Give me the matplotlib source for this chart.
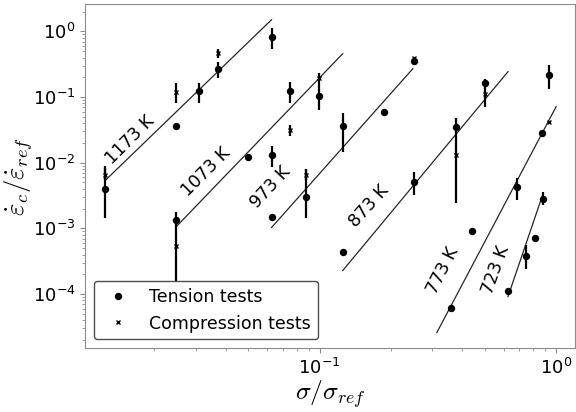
import numpy as np
import matplotlib
matplotlib.use("Agg")
import matplotlib.pyplot as plt

# ── data ─────────────────────────────────────────────────
# tension tests: sigma/sigma_ref, rate, error-bar low, error-bar high (nan = no bar)
t_sig = [0.0124, 0.0248, 0.0310, 0.0373, 0.0626,
         0.0248, 0.0496, 0.0626, 0.0746, 0.0990,
         0.0626, 0.0872, 0.1252, 0.1867, 0.2502,
         0.1252, 0.2502, 0.3770, 0.5001,
         0.3589, 0.4406, 0.6834, 0.8721, 0.9340,
         0.6259, 0.7462, 0.8148, 0.8809]
t_rate = [0.00403, 0.0367, 0.125, 0.271, 0.830,
          0.00136, 0.0124, 0.0133, 0.125, 0.105,
          0.00151, 0.00305, 0.0367, 0.0599, 0.358,
          0.000444, 0.00516, 0.0354, 0.166,
          6.2e-5, 0.000926, 0.00433, 0.0287, 0.219,
          0.000113, 0.000385, 0.000724, 0.00284]
t_lo = [0.00146, np.nan, 0.0822, 0.197, 0.545,
        0.00012, np.nan, 0.00872, 0.0822, 0.0643,
        np.nan, 0.00146, 0.0148, np.nan, np.nan,
        np.nan, 0.00327, 0.00247, 0.139,
        np.nan, np.nan, 0.00274, np.nan, 0.134,
        np.nan, 0.000244, np.nan, 0.0023]
t_hi = [0.00903, np.nan, 0.166, 0.346, 1.14,
        0.0018, np.nan, 0.0182, 0.172, 0.172,
        np.nan, 0.00813, 0.0579, np.nan, np.nan,
        np.nan, 0.00732, 0.0486, 0.191,
        np.nan, np.nan, 0.00593, np.nan, 0.311,
        np.nan, 0.000567, np.nan, 0.00363]

# compression tests
c_sig = [0.0124, 0.0248, 0.0248, 0.0373, 0.0746, 0.0990,
         0.0872, 0.2502, 0.3770, 0.5001, 0.9340]
c_rate = [0.00659, 0.000547, 0.121, 0.474, 0.0319, 0.197,
          0.00659, 0.398, 0.0133, 0.113, 0.0422]
c_lo = [0.00553, np.nan, 0.0822, 0.398, 0.0259, 0.172,
        0.00553, np.nan, np.nan, 0.0714, np.nan]
c_hi = [0.00842, np.nan, 0.166, 0.545, 0.038, 0.235,
        0.00813, np.nan, np.nan, 0.139, np.nan]

# power-law fit lines per temperature (end points)
temps = ["1173 K", "1073 K", "973 K", "873 K", "773 K", "723 K"]
fit_sig0 = [0.0125, 0.0248, 0.0626, 0.1252, 0.313, 0.6259]
fit_sig1 = [0.0626, 0.1252, 0.2478, 0.6259, 1.0, 0.8809]
fit_rate0 = [0.00553, 0.00107, 0.00103, 0.000228, 2.59e-5, 9.16e-5]
fit_rate1 = [1.507, 0.4576, 0.2706, 0.2435, 0.0714, 0.00339]

# temperature label anchors
lab_sig = [0.0158, 0.0332, 0.0621, 0.1614, 0.332, 0.557]
lab_rate = [0.0225, 0.00732, 0.00418, 0.00222, 0.000228, 0.000235]
lab_rot = [45, 45, 47, 48, 63, 70]


def draw_bars(ax, x, y, lo, hi):
    x, y, lo, hi = map(np.asarray, (x, y, lo, hi))
    m = ~np.isnan(lo)
    ax.errorbar(x[m], y[m], yerr=[y[m] - lo[m], hi[m] - y[m]], fmt="none",
                ecolor="k", elinewidth=1.6, capsize=0, zorder=2)


fig = plt.figure(figsize=(5.76, 4.12), dpi=100)
ax = fig.add_axes([0.148, 0.155, 0.850, 0.835])

for k in range(len(temps)):
    ax.plot([fit_sig0[k], fit_sig1[k]], [fit_rate0[k], fit_rate1[k]],
            color="0.15", lw=0.9, zorder=1)
    ax.text(lab_sig[k], lab_rate[k], temps[k], rotation=lab_rot[k],
            rotation_mode="anchor", ha="center", va="center", fontsize=12.5)

draw_bars(ax, t_sig, t_rate, t_lo, t_hi)
draw_bars(ax, c_sig, c_rate, c_lo, c_hi)
ax.plot(t_sig, t_rate, "o", color="k", ms=4.3, ls="none", zorder=3,
        label="Tension tests")
ax.plot(c_sig, c_rate, "x", color="k", ms=3.5, mew=1.0, ls="none", zorder=3,
        label="Compression tests")

ax.set_xscale("log")
ax.set_yscale("log")
ax.set_xlim(0.0102, 1.2)
ax.set_ylim(1.5e-5, 2.6)

for s in ax.spines.values():
    s.set_color("0.55")
ax.tick_params(which="both", colors="0.55", labelcolor="k", labelsize=13)
ax.tick_params(which="major", length=3.5)
ax.tick_params(which="minor", length=2)

ax.set_xlabel(r"$\sigma/\sigma_{ref}$", fontsize=18.5, math_fontfamily="cm",
              labelpad=0)
ax.set_ylabel(r"$\dot{\varepsilon}_c/\dot{\varepsilon}_{ref}$", fontsize=19,
              math_fontfamily="cm")
ax.yaxis.set_label_coords(-0.102, 0.5)

leg = ax.legend(loc="lower left", fontsize=12.5, numpoints=1, framealpha=1,
                edgecolor="0.3", fancybox=True)
leg.set_zorder(5)

fig.savefig("out.png", dpi=100)
